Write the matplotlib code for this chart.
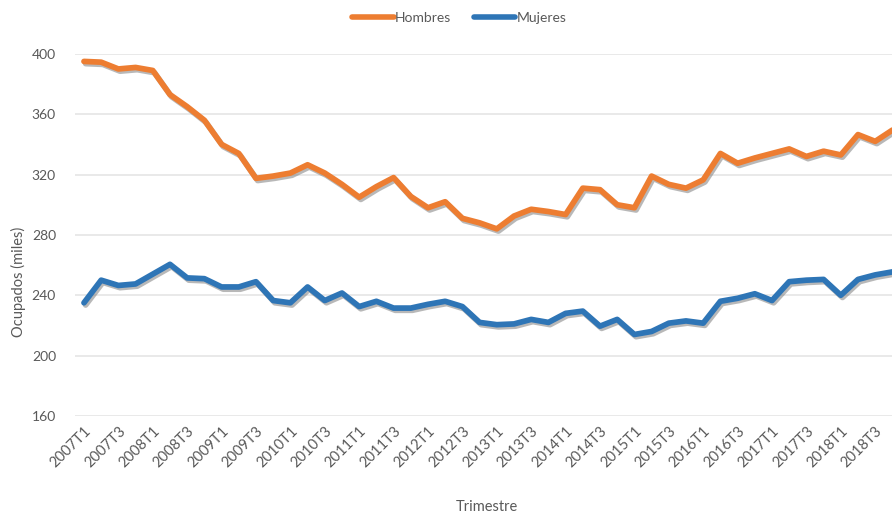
import numpy as np
import matplotlib
matplotlib.use("Agg")
import matplotlib.pyplot as plt
import matplotlib.patheffects as pe

# Ocupados por sexo, 2007T1 - 2018T4 (miles)
anios = list(range(2007, 2019))
trimestres = [f"{a}T{t}" for a in anios for t in range(1, 5)]

hombres = [395, 394.5, 390, 391, 389, 373, 365, 356, 340, 334, 317.5, 319,
           321, 326.5, 321, 313.5, 305, 312, 318, 305.5, 298, 302, 291, 288,
           284, 292.5, 297, 295.5, 293.5, 311, 310, 300, 298, 319, 313.5, 311,
           316.5, 334, 327.5, 331, 334, 337, 332, 335.5, 333, 346.5, 342, 349.5]
mujeres = [235, 250, 246.5, 247.5, 254, 260.5, 251.5, 251, 245.5, 245.5, 249, 236.5,
           235, 245.5, 236.5, 241.5, 232.5, 236, 231.5, 231.5, 234, 236, 232.5, 222,
           220.5, 221, 224, 222, 228, 229.5, 219.5, 224, 214, 216, 221.5, 223,
           221.5, 236, 238, 241, 236.5, 249, 250, 250.5, 240, 250.5, 253.5, 255.5]

naranja = "#ED7D31"
azul = "#2E75B6"
gris = "#595959"

plt.rcParams['font.family'] = ['Lato', 'DejaVu Sans']

fig = plt.figure(figsize=(8.92, 5.18), dpi=100)
ax = fig.add_axes([0.0845, 0.197, 0.9256, 0.699])

x = np.arange(len(trimestres))
sombra = [pe.SimpleLineShadow(offset=(1.2, -1.6), shadow_color='#7f7f7f', alpha=0.55),
          pe.Normal()]
ax.plot(x, hombres, color=naranja, lw=4.1, solid_joinstyle='round',
        solid_capstyle='round', path_effects=sombra, label="Hombres", zorder=3)
ax.plot(x, mujeres, color=azul, lw=4.1, solid_joinstyle='round',
        solid_capstyle='round', path_effects=sombra, label="Mujeres", zorder=3)

ax.set_xlim(-0.5, len(trimestres) - 0.5)
ax.set_ylim(160, 400)
ax.set_yticks(range(160, 401, 40))
ax.grid(axis='y', color='#E3E3E3', lw=1.1)
ax.set_axisbelow(True)
for s in ax.spines.values():
    s.set_visible(False)

ax.set_xticks(x[::2])
ax.set_xticklabels(trimestres[::2], rotation=45, ha='right', va='top',
                   rotation_mode='anchor', fontsize=10.5, color=gris)
ax.tick_params(axis='x', length=0, pad=6)
ax.tick_params(axis='y', length=0, pad=14, labelsize=10, labelcolor=gris)

fig.text(0.546, 0.008, "Trimestre", ha='center', va='bottom', fontsize=10.5, color=gris)
fig.text(0.021, 0.455, "Ocupados (miles)", rotation=90, ha='center', va='center',
         fontsize=10.5, color=gris)

leg = fig.legend(loc='center', bbox_to_anchor=(0.515, 0.965), ncol=2, frameon=False,
                 handlelength=3.0, handletextpad=0.1, columnspacing=1.6, fontsize=10)
for t in leg.get_texts():
    t.set_color(gris)
for h in leg.legend_handles:
    h.set_linewidth(4)
    h.set_path_effects([])

fig.savefig("out.png", dpi=100)
